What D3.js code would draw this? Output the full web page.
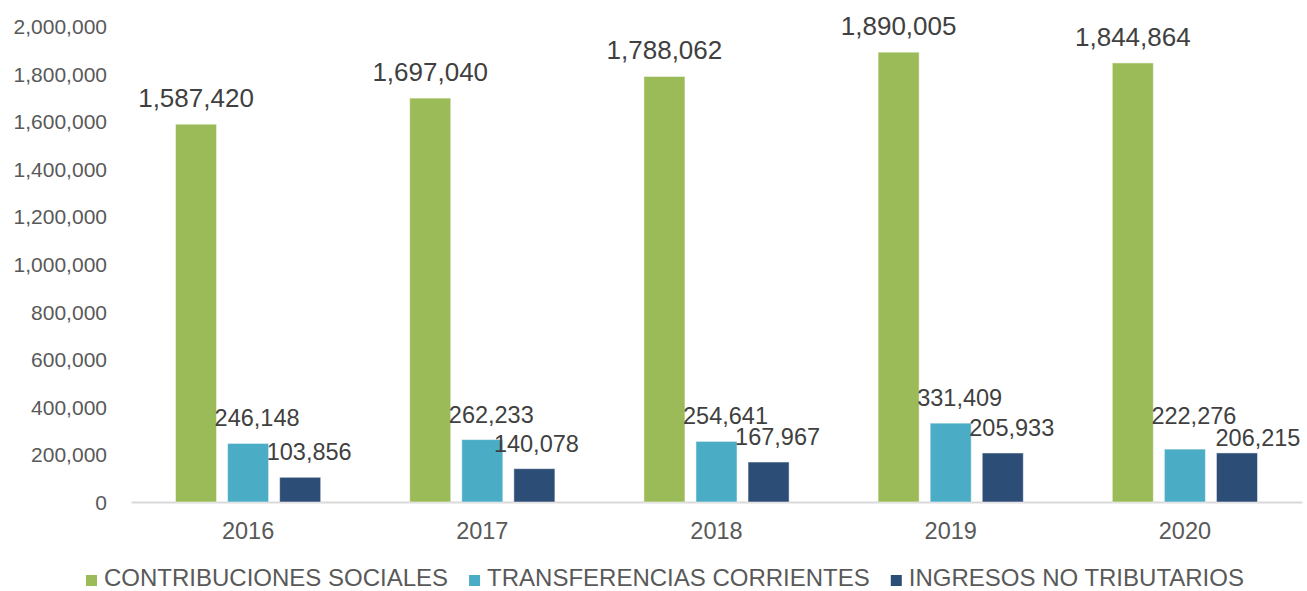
<!DOCTYPE html>
<html>
<head>
<meta charset="utf-8">
<script src="https://cdn.jsdelivr.net/npm/d3@7"></script>
<style>
  html, body { margin: 0; padding: 0; background: #fff; }
  svg { display: block; font-family: "Liberation Sans", Arial, sans-serif; }
</style>
</head>
<body>
<svg id="chart" width="1307" height="591"></svg>
<script>
const years = ["2016", "2017", "2018", "2019", "2020"];
const seriesNames = ["CONTRIBUCIONES SOCIALES", "TRANSFERENCIAS CORRIENTES", "INGRESOS NO TRIBUTARIOS"];
const contribuciones = [1587420, 1697040, 1788062, 1890005, 1844864];
const transferencias = [246148, 262233, 254641, 331409, 222276];
const ingresos = [103856, 140078, 167967, 205933, 206215];
const yTicks = [0, 200000, 400000, 600000, 800000, 1000000, 1200000, 1400000, 1600000, 1800000, 2000000];
const colors = ["#9BBB59", "#4BACC6", "#2C4D75"];

const seriesValues = [contribuciones, transferencias, ingresos];
const data = years.map((y, i) => ({
  year: y,
  values: seriesNames.map((s, j) => ({ key: s, idx: j, yi: i, value: seriesValues[j][i] }))
}));

const svg = d3.select("#chart");
const x0 = d3.scaleBand().domain(years).range([131, 1302]).paddingInner(0).paddingOuter(0);
const bw = x0.bandwidth();
const groupW = bw * 0.62;
const x1 = d3.scaleBand().domain(seriesNames)
  .range([(bw - groupW) / 2, (bw + groupW) / 2]).paddingInner(0.2115).paddingOuter(0);
const y = d3.scaleLinear().domain([0, 2000000]).range([502, 26]);
const fmt = d3.format(",");

// Y axis labels
const yAxis = d3.axisLeft(y).tickValues(yTicks).tickFormat(fmt).tickSize(0).tickPadding(0);
const gy = svg.append("g").attr("transform", "translate(107,0)").call(yAxis);
gy.select(".domain").remove();
gy.selectAll("text").attr("fill", "#595959").attr("font-size", "21px")
  .attr("font-family", "Liberation Sans, Arial, sans-serif").attr("dy", "0.36em");

// X axis
const xAxis = d3.axisBottom(x0).tickSize(0).tickPadding(0);
const gx = svg.append("g").attr("transform", "translate(0,502)").call(xAxis);
gx.select(".domain").attr("stroke", "#D9D9D9").attr("stroke-width", 2);
gx.selectAll("text").attr("fill", "#595959").attr("font-size", "23.5px")
  .attr("font-family", "Liberation Sans, Arial, sans-serif").attr("dy", "0").attr("y", 37);

// Bars
const groups = svg.append("g").selectAll("g").data(data).join("g")
  .attr("transform", d => `translate(${x0(d.year)},0)`);

groups.selectAll("rect").data(d => d.values).join("rect")
  .attr("x", d => x1(d.key))
  .attr("width", x1.bandwidth())
  .attr("y", d => y(d.value))
  .attr("height", d => y(0) - y(d.value))
  .attr("fill", d => colors[d.idx])
  .attr("stroke", "#ffffff").attr("stroke-opacity", 0.5).attr("stroke-width", 1);

// Data labels (offsets per series; extra nudges for the 2020 pair as in the original)
const labelOffset = [0, 9, 9];
const labelSize = ["26px", "23.5px", "23.5px"];
const nudgeX = [[0,0,0,0,0],[0,0,0,0,0],[0,-7,0,0,12]];
const nudgeY = [[0,0,0,0,0],[0,0,0,0,-8],[0,0,0,0,10]];
groups.selectAll("text.lbl").data(d => d.values).join("text")
  .attr("class", "lbl")
  .attr("x", d => x1(d.key) + x1.bandwidth() / 2 + labelOffset[d.idx] + nudgeX[d.idx][d.yi])
  .attr("y", d => y(d.value) - 17 + nudgeY[d.idx][d.yi])
  .attr("text-anchor", "middle")
  .attr("fill", "#404040")
  .attr("font-size", d => labelSize[d.idx])
  .text(d => fmt(d.value));

// Legend
const legend = svg.append("g").attr("transform", "translate(86,0)");
let lx = 0;
seriesNames.forEach((s, i) => {
  const g = legend.append("g").attr("transform", `translate(${lx},0)`);
  g.append("rect").attr("x", 0).attr("y", 575).attr("width", 11).attr("height", 11).attr("fill", colors[i]);
  const t = g.append("text").attr("x", 18).attr("y", 586).attr("fill", "#595959")
    .attr("font-size", "24px").text(s);
  lx += 18 + t.node().getComputedTextLength() + 21;
});
</script>
</body>
</html>
